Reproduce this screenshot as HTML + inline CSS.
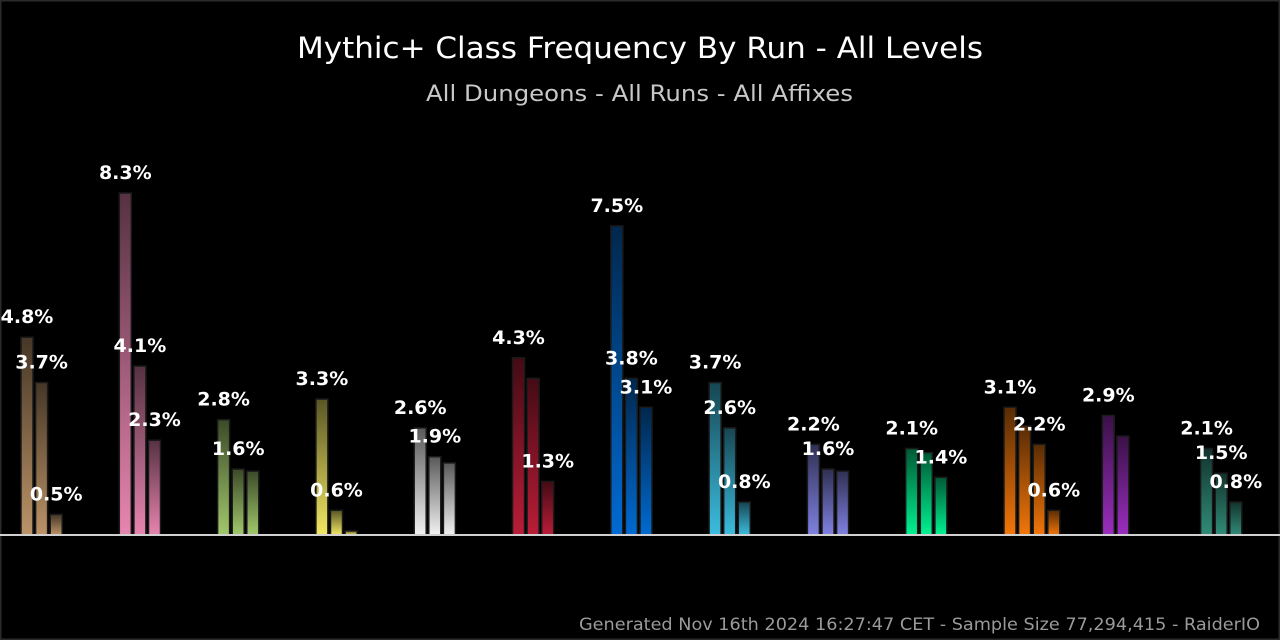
<!DOCTYPE html>
<html><head><meta charset="utf-8"><style>
html,body{margin:0;padding:0;background:#000;}
svg{display:block;}
</style></head><body>
<svg id="chart" width="1280" height="640" xmlns="http://www.w3.org/2000/svg">
<defs id="defs"></defs>
<rect x="0" y="0" width="1280" height="640" fill="#000"/>
<rect x="0.5" y="0.5" width="1279" height="639" fill="none" stroke="#2a2a2a" stroke-width="2"/>
<text x="297" y="58" textLength="686" lengthAdjust="spacingAndGlyphs" fill="#fff" font-family="'DejaVu Sans', 'Liberation Sans', sans-serif" font-size="29">Mythic+ Class Frequency By Run - All Levels</text>
<text x="426" y="101" textLength="427" lengthAdjust="spacingAndGlyphs" fill="#c8c8c8" font-family="'DejaVu Sans', 'Liberation Sans', sans-serif" font-size="22">All Dungeons - All Runs - All Affixes</text>
<g id="bars"></g>
<g id="labels"></g>
<line x1="0" y1="535" x2="1280" y2="535" stroke="#d0d0d0" stroke-width="2"/>
<text x="579" y="630" textLength="681" lengthAdjust="spacingAndGlyphs" fill="#9a9a9a" font-family="'DejaVu Sans', 'Liberation Sans', sans-serif" font-size="17">Generated Nov 16th 2024 16:27:47 CET - Sample Size 77,294,415 - RaiderIO</text>
</svg>
<script>
const groupNames = ["warrior","paladin","hunter","rogue","priest","death-knight","shaman","mage","warlock","monk","druid","demon-hunter","evoker"];
const groupColors = ["#c69b6d","#f48cba","#aad372","#fff468","#ffffff","#c41e3a","#0070dd","#3fc7eb","#8788ee","#00ff98","#ff7c0a","#a330c9","#33937f"];
const seriesValues = [
  [4.8,3.7,0.5],
  [8.3,4.1,2.3],
  [2.8,1.6,1.55],
  [3.3,0.6,0.1],
  [2.6,1.9,1.75],
  [4.3,3.8,1.3],
  [7.5,3.8,3.1],
  [3.7,2.6,0.8],
  [2.2,1.6,1.55],
  [2.1,2.0,1.4],
  [3.1,2.65,2.2,0.6],
  [2.9,2.4],
  [2.1,1.5,0.8]
];
const showLabel = [
  [1,1,1],[1,1,1],[1,1,0],[1,1,0],[1,1,0],[1,0,1],[1,1,1],[1,1,1],[1,1,0],[1,0,1],[1,0,1,1],[1,0],[1,1,1]
];
const NS="http://www.w3.org/2000/svg";
const baseY=535, pxPerPct=41.2, groupStart=21, groupPitch=98.3, barPitch=14.6, barW=12;
function yScale(v){return baseY - v*pxPerPct;}
function xScale(g,b){return groupStart + g*groupPitch + b*barPitch;}
const defs=document.getElementById('defs'), bars=document.getElementById('bars'), labels=document.getElementById('labels');
groupColors.forEach((c,g)=>{
  const lg=document.createElementNS(NS,'linearGradient');
  lg.setAttribute('id','grad'+g);lg.setAttribute('x1','0');lg.setAttribute('y1','0');lg.setAttribute('x2','0');lg.setAttribute('y2','1');
  const s1=document.createElementNS(NS,'stop');s1.setAttribute('offset','0');s1.setAttribute('stop-color',c);s1.setAttribute('stop-opacity','0.35');
  const s2=document.createElementNS(NS,'stop');s2.setAttribute('offset','1');s2.setAttribute('stop-color',c);s2.setAttribute('stop-opacity','0.95');
  lg.appendChild(s1);lg.appendChild(s2);defs.appendChild(lg);
});
seriesValues.forEach((vals,g)=>{
  vals.forEach((v,b)=>{
    const x=xScale(g,b), y=yScale(v);
    const r=document.createElementNS(NS,'rect');
    r.setAttribute('x',x);r.setAttribute('y',y);r.setAttribute('width',barW);r.setAttribute('height',baseY-y);
    r.setAttribute('fill','url(#grad'+g+')');r.setAttribute('stroke','#1a1a1a');r.setAttribute('stroke-width','1.5');
    
    
    bars.appendChild(r);
    if(showLabel[g][b]){
      const t=document.createElementNS(NS,'text');
      t.setAttribute('x',x+barW/2);t.setAttribute('y',y-14);t.setAttribute('text-anchor','middle');
      t.setAttribute('fill','#fff');t.setAttribute('font-size','19');t.setAttribute('font-weight','bold');
      t.setAttribute('font-family',"'DejaVu Sans', 'Liberation Sans', sans-serif");
      t.textContent=v.toFixed(1)+'%';
      
      
      labels.appendChild(t);
    }
  });
});
</script>
</body></html>
